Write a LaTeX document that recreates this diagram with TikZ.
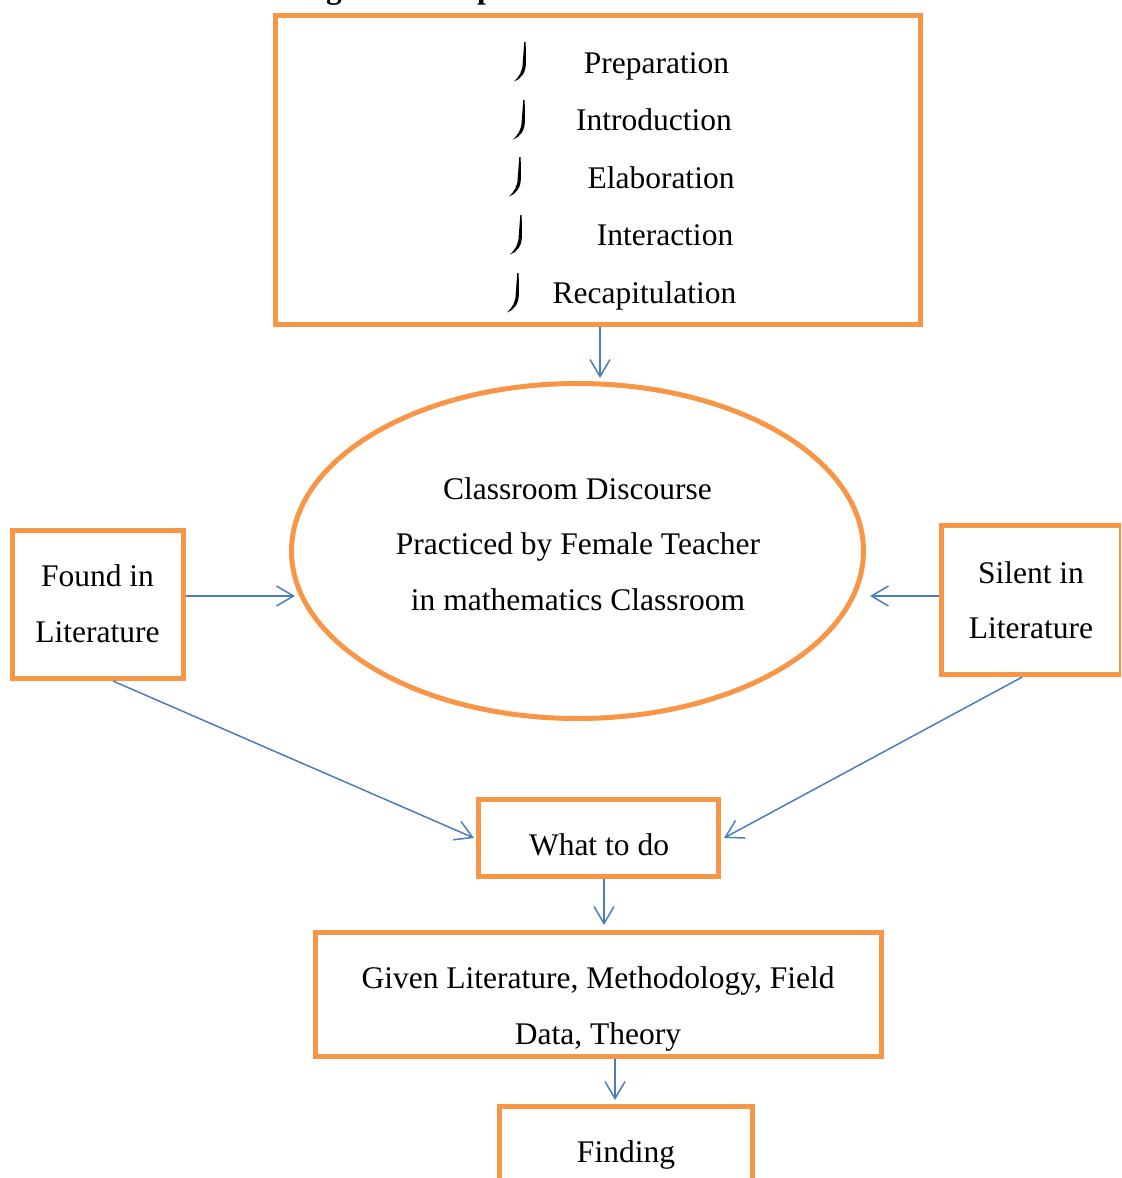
\documentclass[tikz,border=0pt]{standalone}
\usepackage{fontspec}
\setmainfont{Liberation Serif}
\usetikzlibrary{arrows.meta,calc,shapes.geometric}
\definecolor{boxorange}{HTML}{F79646}
\definecolor{arrblue}{HTML}{4A7EBB}
\newcommand\hookbul[2]{\fill[black] ({#1-0.7},{#2}) -- ({#1+0.7},{#2}) -- ({#1+0.9},{#2+21}) .. controls ({#1+0.9},{#2+31}) and ({#1-4},{#2+37}) .. ({#1-11},{#2+39.5}) .. controls ({#1-6},{#2+35}) and ({#1-2.3},{#2+29}) .. ({#1-2.3},{#2+21}) -- cycle;}
\begin{document}
\begin{tikzpicture}[x=0.5pt,y=-0.5pt,
  obox/.style={draw=boxorange, line width=2.5pt, inner sep=0pt, rectangle},
  txt/.style={anchor=base, inner sep=0pt, font=\fontsize{15.75pt}{19pt}\selectfont},
  ttl/.style={anchor=base, inner sep=0pt, font=\fontsize{15.75pt}{19pt}\selectfont\bfseries},
  arr/.style={draw=arrblue, line width=0.75pt, -{Straight Barb[length=8.5pt,width=10pt]}}]
\useasboundingbox (0,0) rectangle (1121,1178);
\clip (0,0) rectangle (1121,1178);
% clipped title fragments
\node[ttl] (tg) at (334,-2) {g};
\node[ttl] (tp) at (486,-2) {p};
% boxes
\node[obox, minimum width=322.5pt, minimum height=154.5pt] (top) at (597.5,169.5) {};
\node[draw=boxorange, line width=2.5pt, ellipse, inner sep=0pt, minimum width=286pt, minimum height=167.5pt] (ell) at (577.5,551) {};
\node[obox, minimum width=85.5pt, minimum height=74pt] (found) at (98,604.5) {};
\node[obox, minimum width=89.75pt, minimum height=74.5pt] (silent) at (1031.25,600) {};
\node[obox, minimum width=120pt, minimum height=38.5pt] (what) at (598.5,838) {};
\node[obox, minimum width=283pt, minimum height=62pt] (given) at (598.5,994.5) {};
\node[obox, minimum width=126.5pt, minimum height=44.75pt] (finding) at (626,1151.25) {};
% top list
\hookbul{525}{42}
\hookbul{524}{100}
\hookbul{520}{157}
\hookbul{521}{215}
\hookbul{518}{273}
\node[txt] (t1) at (656.5,73) {Preparation};
\node[txt] (t2) at (654,130) {Introduction};
\node[txt] (t3) at (661,188) {Elaboration};
\node[txt] (t4) at (665,245) {Interaction};
\node[txt] (t5) at (644.5,303) {Recapitulation};
% ellipse text
\node[txt] (e1) at (577.5,499) {Classroom Discourse};
\node[txt] (e2) at (578,554) {Practiced by Female Teacher};
\node[txt] (e3) at (578,610) {in mathematics Classroom};
% side boxes text
\node[txt] (f1) at (97.5,586) {Found in};
\node[txt] (f2) at (97.5,642) {Literature};
\node[txt] (s1) at (1031,583) {Silent in};
\node[txt] (s2) at (1031,638) {Literature};
% lower texts
\node[txt] (w1) at (599,855) {What to do};
\node[txt] (g1) at (598,988) {Given Literature, Methodology, Field};
\node[txt] (g2) at (598,1044) {Data, Theory};
\node[txt] (fi) at (626,1162) {Finding};
% arrows
\draw[arr] ($(top.south)+(2.5,0)$) -- ($(ell.north)+(22.5,-3)$);
\draw[arr] ($(found.east)+(0,-8.5)$) -- ($(ell.west)+(6,45)$);
\draw[arr] ($(silent.west)+(0,-4)$) -- ($(ell.east)+(4,45)$);
\draw[arr] ($(found.south)+(15,0)$) -- ($(what.west)+(-2,0)$);
\draw[arr] ($(silent.south)+(-9,0)$) -- ($(what.east)+(3,0)$);
\draw[arr] ($(what.south)+(5.5,0)$) -- ($(given.north)+(5.5,-5)$);
\draw[arr] ($(given.south)+(16.5,0)$) -- ($(finding.north)+(-11,-4)$);
\end{tikzpicture}
\end{document}
